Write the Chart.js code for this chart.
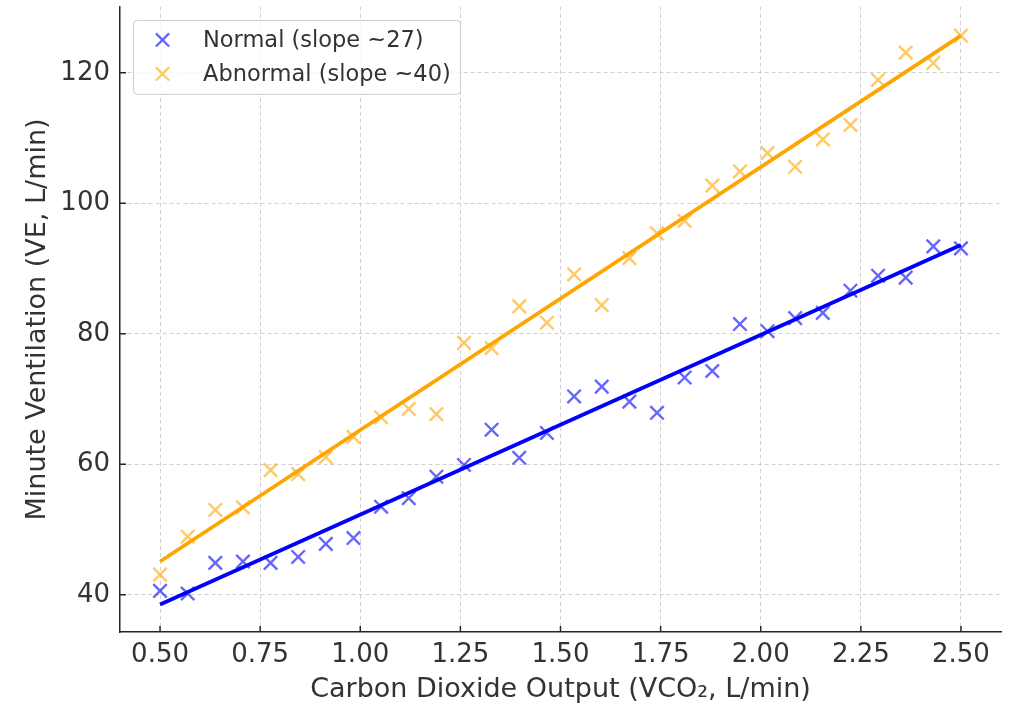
<!DOCTYPE html>
<html>
<head>
<meta charset="utf-8">
<script src="https://cdn.jsdelivr.net/npm/chart.js@4/dist/chart.umd.min.js"></script>
<style>
  html, body { margin: 0; padding: 0; background: #fff; overflow: hidden; }
  #wrap { width: 1018px; height: 706px; overflow: hidden; }
  #graph { display: block; margin-top: -5px; }
</style>
</head>
<body>
<div id="wrap"><canvas id="graph" width="1018" height="711"></canvas></div>
<script>
// VCO2 (L/min) sample points
const vco2 = [0.500, 0.569, 0.638, 0.707, 0.776, 0.845, 0.914, 0.983, 1.052, 1.121,
              1.190, 1.259, 1.328, 1.397, 1.466, 1.534, 1.603, 1.672, 1.741, 1.810,
              1.879, 1.948, 2.017, 2.086, 2.155, 2.224, 2.293, 2.362, 2.431, 2.500];

// VE (L/min) measured for each group
const veNormal = [40.6, 40.2, 44.9, 45.1, 44.9, 45.8, 47.8, 48.7, 53.5, 54.8,
                  58.1, 59.9, 65.3, 61.0, 64.8, 70.4, 71.9, 69.6, 67.9, 73.3,
                  74.3, 81.5, 80.4, 82.4, 83.2, 86.6, 88.9, 88.6, 93.4, 93.1];
const veAbnormal = [43.1, 48.9, 53.0, 53.4, 59.1, 58.5, 61.1, 64.2, 67.2, 68.5,
                    67.7, 78.6, 77.8, 84.2, 81.7, 89.1, 84.4, 91.6, 95.4, 97.3,
                    102.7, 104.9, 107.7, 105.6, 109.8, 112.0, 118.9, 123.1, 121.5, 125.7];

// regression line end points
const fitX = [0.5, 2.5];
const fitNormal = [38.5, 93.6];
const fitAbnormal = [45.1, 125.7];

const xTicks = [0.5, 0.75, 1.0, 1.25, 1.5, 1.75, 2.0, 2.25, 2.5];
const yTicks = [40, 60, 80, 100, 120];

const labelNormal = 'Normal (slope ~27)';
const labelAbnormal = 'Abnormal (slope ~40)';

const FONT = "'DejaVu Sans', sans-serif";
const TEXT = '#333333';
const SPINE = '#262626';

const pts = (xs, ys) => xs.map((x, i) => ({x: x, y: ys[i]}));

// small inward tick marks on both axes
const innerTicks = {
  id: 'innerTicks',
  beforeDatasetsDraw(chart) {
    const {ctx, chartArea, scales} = chart;
    ctx.save();
    ctx.strokeStyle = SPINE;
    ctx.lineWidth = 1.5;
    ctx.beginPath();
    scales.x.ticks.forEach(t => {
      const px = scales.x.getPixelForValue(t.value);
      ctx.moveTo(px, chartArea.bottom);
      ctx.lineTo(px, chartArea.bottom - 6);
    });
    scales.y.ticks.forEach(t => {
      const py = scales.y.getPixelForValue(t.value);
      ctx.moveTo(chartArea.left, py);
      ctx.lineTo(chartArea.left + 6, py);
    });
    ctx.stroke();
    ctx.restore();
  }
};

// legend box in the upper left of the plot
const boxLegend = {
  id: 'boxLegend',
  afterDraw(chart) {
    const {ctx, chartArea} = chart;
    const items = chart.data.datasets.filter(d => d.showInLegend);
    const x0 = chartArea.left + 13, y0 = chartArea.top + 13, w = 327, h = 74, r = 4;
    ctx.save();
    ctx.fillStyle = 'rgba(255,255,255,0.8)';
    ctx.strokeStyle = '#cccccc';
    ctx.lineWidth = 1;
    ctx.beginPath();
    ctx.roundRect(x0 + 0.5, y0 + 0.5, w, h, r);
    ctx.fill();
    ctx.stroke();
    ctx.font = '22.5px ' + FONT;
    ctx.textBaseline = 'middle';
    ctx.textAlign = 'left';
    items.forEach((d, i) => {
      const cy = y0 + 20 + i * 34;
      const cx = x0 + 29.5;
      const o = 6.6;
      ctx.strokeStyle = d.pointBorderColor;
      ctx.lineWidth = 2.4;
      ctx.beginPath();
      ctx.moveTo(cx - o, cy - o); ctx.lineTo(cx + o, cy + o);
      ctx.moveTo(cx + o, cy - o); ctx.lineTo(cx - o, cy + o);
      ctx.stroke();
      ctx.fillStyle = TEXT;
      ctx.fillText(d.label, x0 + 70, cy + 1);
    });
    ctx.restore();
  }
};

const config = {
  type: 'scatter',
  data: {
    datasets: [
      {
        type: 'line', label: 'fit normal', data: pts(fitX, fitNormal),
        borderColor: '#0000ff', borderWidth: 3.8, pointRadius: 0, fill: false
      },
      {
        type: 'line', label: 'fit abnormal', data: pts(fitX, fitAbnormal),
        borderColor: '#ffa500', borderWidth: 3.8, pointRadius: 0, fill: false
      },
      {
        label: labelNormal, data: pts(vco2, veNormal), showInLegend: true,
        pointStyle: 'crossRot', pointRadius: 9.5, pointBorderWidth: 2.4,
        pointBorderColor: 'rgba(0,0,255,0.6)', pointBackgroundColor: 'rgba(0,0,0,0)'
      },
      {
        label: labelAbnormal, data: pts(vco2, veAbnormal), showInLegend: true,
        pointStyle: 'crossRot', pointRadius: 9.5, pointBorderWidth: 2.4,
        pointBorderColor: 'rgba(255,165,0,0.6)', pointBackgroundColor: 'rgba(0,0,0,0)'
      }
    ]
  },
  options: {
    responsive: false,
    animation: false,
    devicePixelRatio: 1,
    layout: { padding: { left: 0, top: 2, right: 17, bottom: 0 } },
    plugins: { legend: { display: false }, tooltip: { enabled: false } },
    scales: {
      x: {
        type: 'linear', min: 0.4, max: 2.6,
        afterBuildTicks: s => { s.ticks = xTicks.map(v => ({value: v})); },
        afterFit: s => { s.height = 74; s.paddingLeft = 0; s.paddingRight = 0; },
        grid: { color: 'rgba(176,176,176,0.6)', lineWidth: 1, drawTicks: false },
        border: { display: true, color: SPINE, width: 1.5, dash: [4, 3] },
        ticks: {
          padding: 8, color: TEXT, font: { family: FONT, size: 26 },
          callback: v => v.toFixed(2)
        },
        title: {
          display: true, text: 'Carbon Dioxide Output (VCO₂, L/min)', color: TEXT,
          font: { family: FONT, size: 27 }, padding: { top: 0, bottom: 0 }
        }
      },
      y: {
        type: 'linear', min: 34.3, max: 130.1,
        afterBuildTicks: s => { s.ticks = yTicks.map(v => ({value: v})); },
        afterFit: s => { s.width = 120; s.paddingTop = 0; s.paddingBottom = 0; },
        grid: { color: 'rgba(176,176,176,0.6)', lineWidth: 1, drawTicks: false },
        border: { display: true, color: SPINE, width: 1.5, dash: [4, 3] },
        ticks: {
          padding: 10, color: TEXT, font: { family: FONT, size: 26 },
          callback: v => String(v)
        },
        title: {
          display: true, text: 'Minute Ventilation (VE, L/min)', color: TEXT,
          font: { family: FONT, size: 27 }, padding: { top: 22, bottom: 0 }
        }
      }
    }
  },
  plugins: [innerTicks, boxLegend]
};

const ctx = document.querySelector('#graph').getContext('2d');
const myChart = new Chart(ctx, config);
</script>
</body>
</html>
